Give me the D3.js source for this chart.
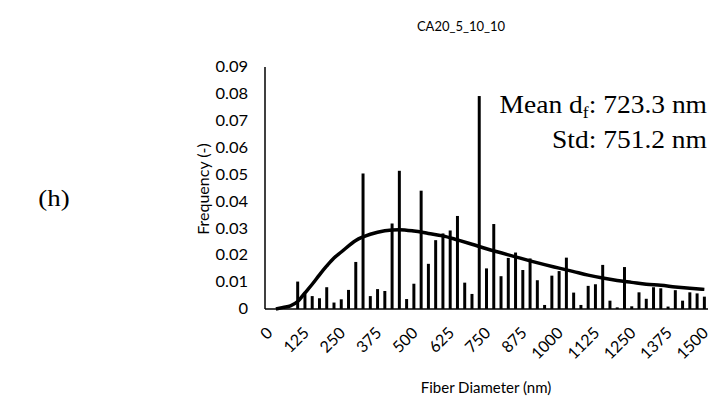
<!DOCTYPE html>
<html>
<head>
<meta charset="utf-8">
<script src="https://cdn.jsdelivr.net/npm/d3@7"></script>
<style>
  body { margin: 0; background: #fff; }
  text { fill: #000; }
</style>
</head>
<body>
<div id="chart"></div>
<script>
// fiber diameter histogram with fitted curve

var width = 712;
var height = 408;

// bin categories (nm)
var diameters = [0, 25, 50, 75, 100, 125, 150, 175, 200, 225, 250, 275, 300, 325, 350, 375,
  400, 425, 450, 475, 500, 525, 550, 575, 600, 625, 650, 675, 700, 725, 750, 775, 800, 825,
  850, 875, 900, 925, 950, 975, 1000, 1025, 1050, 1075, 1100, 1125, 1150, 1175, 1200, 1225,
  1250, 1275, 1300, 1325, 1350, 1375, 1400, 1425, 1450, 1475, 1500];

// frequency of each bin
var frequency = [0, 0, 0, 0, 0.0102, 0.0058, 0.0048, 0.0040, 0.0081, 0.0024, 0.0036, 0.0071,
  0.0175, 0.0504, 0.0048, 0.0074, 0.0067, 0.0318, 0.0514, 0.0037, 0.0094, 0.0440, 0.0168,
  0.0256, 0.0281, 0.0292, 0.0346, 0.0098, 0.0056, 0.0792, 0.0151, 0.0316, 0.0122, 0.0190,
  0.0210, 0.0145, 0.0188, 0.0107, 0.0015, 0.0124, 0.0141, 0.0191, 0.0061, 0.0015, 0.0086,
  0.0092, 0.0164, 0.0031, 0.0006, 0.0156, 0.0010, 0.0062, 0.0038, 0.0081, 0.0077, 0.0009,
  0.0070, 0.0031, 0.0062, 0.0058, 0.0046];

// fitted distribution curve
var fitDiameters = [25, 50, 75, 100, 125, 150, 175, 200, 225, 250, 300, 350, 400, 450, 500,
  550, 600, 650, 700, 750, 800, 850, 900, 950, 1000, 1050, 1100, 1150, 1200, 1250, 1300,
  1350, 1400, 1450, 1500];
var fitFrequency = [0, 0.0006, 0.0012, 0.0028, 0.0060, 0.0092, 0.0127, 0.0160, 0.0190,
  0.0212, 0.0255, 0.0278, 0.0291, 0.0295, 0.0290, 0.0281, 0.0272, 0.0257, 0.0241, 0.0224,
  0.0209, 0.0194, 0.0179, 0.0165, 0.0152, 0.0139, 0.0126, 0.0115, 0.0106, 0.0099, 0.0092,
  0.0088, 0.0082, 0.0077, 0.0073];

var xLabels = [0, 125, 250, 375, 500, 625, 750, 875, 1000, 1125, 1250, 1375, 1500];
var yTicks = [0, 0.01, 0.02, 0.03, 0.04, 0.05, 0.06, 0.07, 0.08, 0.09];

var chartTitle = "CA20_5_10_10";
var panelLabel = "(h)";
var meanText = ["Mean d", "f", ": 723.3 nm"];
var stdText = "Std: 751.2 nm";

var sans = "Lato, 'Open Sans', sans-serif";
var serif = "'Liberation Serif', 'Times New Roman', serif";

var svg = d3.select("#chart")
            .append("svg")
            .attr("width", width)
            .attr("height", height);

var x = d3.scaleBand()
          .domain(diameters)
          .range([265, 708])
          .paddingInner(0.59)
          .paddingOuter(0.295);

var y = d3.scaleLinear()
          .domain([0, 0.09])
          .range([309, 67]);

function cx(d) { return x(d) + x.bandwidth() / 2; }

// bars
svg.append("g")
   .selectAll("rect")
   .data(diameters)
   .enter()
   .append("rect")
   .attr("x", function(d) { return x(d); })
   .attr("width", x.bandwidth())
   .attr("y", function(d, i) { return y(frequency[i]); })
   .attr("height", function(d, i) { return y(0) - y(frequency[i]); })
   .attr("fill", "#000");

// fitted curve
var line = d3.line()
             .x(function(d) { return cx(d); })
             .y(function(d, i) { return y(fitFrequency[i]); })
             .curve(d3.curveMonotoneX);

svg.append("path")
   .datum(fitDiameters)
   .attr("d", line)
   .attr("fill", "none")
   .attr("stroke", "#000")
   .attr("stroke-width", 3.5);

// axis lines
svg.append("line")
   .attr("x1", 265).attr("x2", 265)
   .attr("y1", y(0.09)).attr("y2", y(0))
   .attr("stroke", "#000").attr("stroke-width", 1.5);
svg.append("line")
   .attr("x1", 265).attr("x2", 708)
   .attr("y1", y(0)).attr("y2", y(0))
   .attr("stroke", "#000").attr("stroke-width", 1.5);

// y tick labels (picture is slightly stretched sideways)
svg.append("g")
   .selectAll("text")
   .data(yTicks)
   .enter()
   .append("text")
   .attr("transform", function(d) { return "translate(248," + y(d) + ") scale(1.1,1)"; })
   .attr("dy", "0.35em")
   .attr("text-anchor", "end")
   .style("font-family", sans)
   .style("font-size", "15px")
   .text(function(d) { return d === 0 ? "0" : d3.format(".2f")(d); });

// x tick labels, rotated
svg.append("g")
   .selectAll("text")
   .data(xLabels)
   .enter()
   .append("text")
   .attr("transform", function(d) { return "translate(" + (cx(d) - 3) + ",326) rotate(-45)"; })
   .attr("dy", "0.71em")
   .attr("text-anchor", "end")
   .style("font-family", sans)
   .style("font-size", "16px")
   .text(function(d) { return d; });

// titles
svg.append("text")
   .attr("x", 461).attr("y", 31)
   .attr("text-anchor", "middle")
   .style("font-family", sans)
   .style("font-size", "13px")
   .text(chartTitle);

svg.append("text")
   .attr("x", 486).attr("y", 393)
   .attr("text-anchor", "middle")
   .style("font-family", sans)
   .style("font-size", "15px")
   .text("Fiber Diameter (nm)");

svg.append("text")
   .attr("transform", "translate(209,189) rotate(-90)")
   .attr("text-anchor", "middle")
   .style("font-family", sans)
   .style("font-size", "16px")
   .text("Frequency (-)");

svg.append("text")
   .attr("transform", "translate(54,206) scale(1.12,1)")
   .attr("text-anchor", "middle")
   .style("font-family", serif)
   .style("font-size", "24px")
   .text(panelLabel);

// mean / std annotation
var mean = svg.append("text")
   .attr("transform", "translate(707,113) scale(1.1,1)")
   .attr("text-anchor", "end")
   .style("font-family", serif)
   .style("font-size", "25px");
mean.append("tspan").text(meanText[0]);
mean.append("tspan").attr("dy", 5).style("font-size", "16px").text(meanText[1]);
mean.append("tspan").attr("dy", -5).text(meanText[2]);

svg.append("text")
   .attr("transform", "translate(707,148) scale(1.1,1)")
   .attr("text-anchor", "end")
   .style("font-family", serif)
   .style("font-size", "25px")
   .text(stdText);
</script>
</body>
</html>
